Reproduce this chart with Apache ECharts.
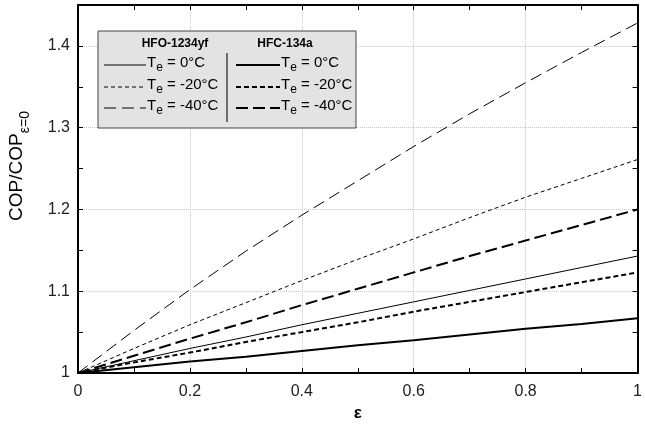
<!DOCTYPE html>
<html><head><meta charset="utf-8">
<script src="https://cdn.jsdelivr.net/npm/echarts@6/dist/echarts.min.js"></script>
<style>html,body{margin:0;padding:0;background:#fff}#c{width:645px;height:429px}</style>
</head><body><div id="c"></div>
<script>
const eps = [0, 0.1, 0.2, 0.3, 0.4, 0.5, 0.6, 0.7, 0.8, 0.9, 1.0];
const hfo_0   = [1, 1.015, 1.030, 1.044, 1.059, 1.073, 1.087, 1.101, 1.115, 1.129, 1.143];
const hfo_m20 = [1, 1.030, 1.059, 1.086, 1.113, 1.139, 1.164, 1.190, 1.215, 1.238, 1.261];
const hfo_m40 = [1, 1.052, 1.102, 1.149, 1.193, 1.235, 1.277, 1.317, 1.355, 1.392, 1.428];
const hfc_0   = [1, 1.007, 1.014, 1.020, 1.027, 1.034, 1.040, 1.047, 1.054, 1.060, 1.067];
const hfc_m20 = [1, 1.013, 1.025, 1.038, 1.050, 1.062, 1.075, 1.087, 1.099, 1.111, 1.123];
const hfc_m40 = [1, 1.021, 1.042, 1.062, 1.083, 1.103, 1.123, 1.143, 1.162, 1.181, 1.200];
const legendHeaders = ['HFO-1234yf', 'HFC-134a'];
const legendTemps = ['0°C', '-20°C', '-40°C'];

const FONT = 'Liberation Sans, Arial, sans-serif';
const pair = a => eps.map((x, i) => [x, a[i]]);
function ser(name, data, width, dash) {
  return {name, type: 'line', data: pair(data), symbol: 'none', silent: true,
    lineStyle: {color: '#000', width, type: dash}};
}
const styles = [
  [hfo_0, 1, 'solid'], [hfo_m20, 1, [4, 3]], [hfo_m40, 1, [12, 6]],
  [hfc_0, 2, 'solid'], [hfc_m20, 2, [5, 3]], [hfc_m40, 2, [12, 5]]
];
const names = ['HFO 0', 'HFO -20', 'HFO -40', 'HFC 0', 'HFC -20', 'HFC -40'];

const chart = echarts.init(document.getElementById('c'));
const axCommon = {
  axisLine: {show: true, onZero: false, lineStyle: {color: '#000', width: 2}},
  axisTick: {show: true, inside: true, length: 5, lineStyle: {color: '#000'}},
  minorTick: {show: true, splitNumber: 2, length: 5, lineStyle: {color: '#000'}},
};
// legend graphics
const g = [];
g.push({type: 'rect', shape: {x: 98, y: 31, width: 258, height: 97},
  style: {fill: '#e3e3e3', stroke: '#444', lineWidth: 1}, z: 100});
g.push({type: 'line', shape: {x1: 227, y1: 53, x2: 227, y2: 122},
  style: {stroke: '#444', lineWidth: 1.5}, z: 101});
g.push({type: 'text', x: 175, y: 44, style: {text: legendHeaders[0], font: 'bold 12px ' + FONT, fill: '#000', align: 'center', verticalAlign: 'middle'}, z: 101});
g.push({type: 'text', x: 285, y: 44, style: {text: legendHeaders[1], font: 'bold 12px ' + FONT, fill: '#000', align: 'center', verticalAlign: 'middle'}, z: 101});
const rowsY = [65, 87, 108];
for (let c = 0; c < 2; c++) {
  for (let r = 0; r < 3; r++) {
    const st = styles[c * 3 + r];
    const x1 = c === 0 ? 104 : 236, x2 = c === 0 ? 146 : 280;
    g.push({type: 'line', shape: {x1, y1: rowsY[r], x2, y2: rowsY[r]},
      style: {stroke: '#000', lineWidth: st[1], lineDash: st[2] === 'solid' ? null : st[2]}, z: 101});
    g.push({type: 'text', x: x2 + 1, y: rowsY[r] - 10,
      style: {text: '{t|T}{s|e}{t| = ' + legendTemps[r] + '}',
        rich: {t: {fontSize: 15, fontFamily: FONT, fill: '#000', verticalAlign: 'top', lineHeight: 19},
               s: {fontSize: 12, fontFamily: FONT, fill: '#000', verticalAlign: 'top', lineHeight: 19, padding: [7, 0, 0, 0]}},
        fill: '#000'}, z: 101});
  }
}
// y-axis title (rotated, with subscript)
g.push({type: 'text', x: 19, y: 166, rotation: Math.PI / 2,
  style: {text: '{a|COP/COP}{b|ε=0}', align: 'center', verticalAlign: 'middle',
    rich: {a: {fontFamily: FONT, fontSize: 19, fill: '#000', verticalAlign: 'top', lineHeight: 24},
           b: {fontFamily: FONT, fontSize: 14, fill: '#000', verticalAlign: 'top', lineHeight: 24, padding: [11, 0, 0, 0]}}}, z: 50});

chart.setOption({
  animation: false,
  grid: {left: 78, right: 7, top: 5, bottom: 56},
  xAxis: [
    Object.assign({type: 'value', min: 0, max: 1, interval: 0.2, position: 'bottom',
      name: 'ε', nameLocation: 'middle', nameGap: 29,
      nameTextStyle: {fontFamily: FONT, fontSize: 17, fontWeight: 'bold', color: '#000'},
      axisLabel: {fontFamily: FONT, fontSize: 16, color: '#222', margin: 11},
      splitLine: {show: true, lineStyle: {color: '#c8c8c8', type: 'dotted', width: 1}}}, axCommon),
    Object.assign({type: 'value', min: 0, max: 1, interval: 0.2, position: 'top',
      axisLabel: {show: false}, splitLine: {show: false}}, axCommon)
  ],
  yAxis: [
    Object.assign({type: 'value', min: 1, max: 1.45, interval: 0.1, position: 'left',
      axisLabel: {fontFamily: FONT, fontSize: 16, color: '#222', margin: 8, showMaxLabel: false,
        formatter: v => (Math.abs(v * 10 - Math.round(v * 10)) < 1e-6 ? String(+v.toFixed(1)) : '')},
      splitLine: {show: true, lineStyle: {color: '#c8c8c8', type: 'dotted', width: 1}}}, axCommon),
    Object.assign({type: 'value', min: 1, max: 1.45, interval: 0.1, position: 'right',
      axisLabel: {show: false}, splitLine: {show: false}}, axCommon)
  ],
  series: styles.map((s, i) => ser(names[i], s[0], s[1], s[2])),
  graphic: g
});
</script></body></html>
